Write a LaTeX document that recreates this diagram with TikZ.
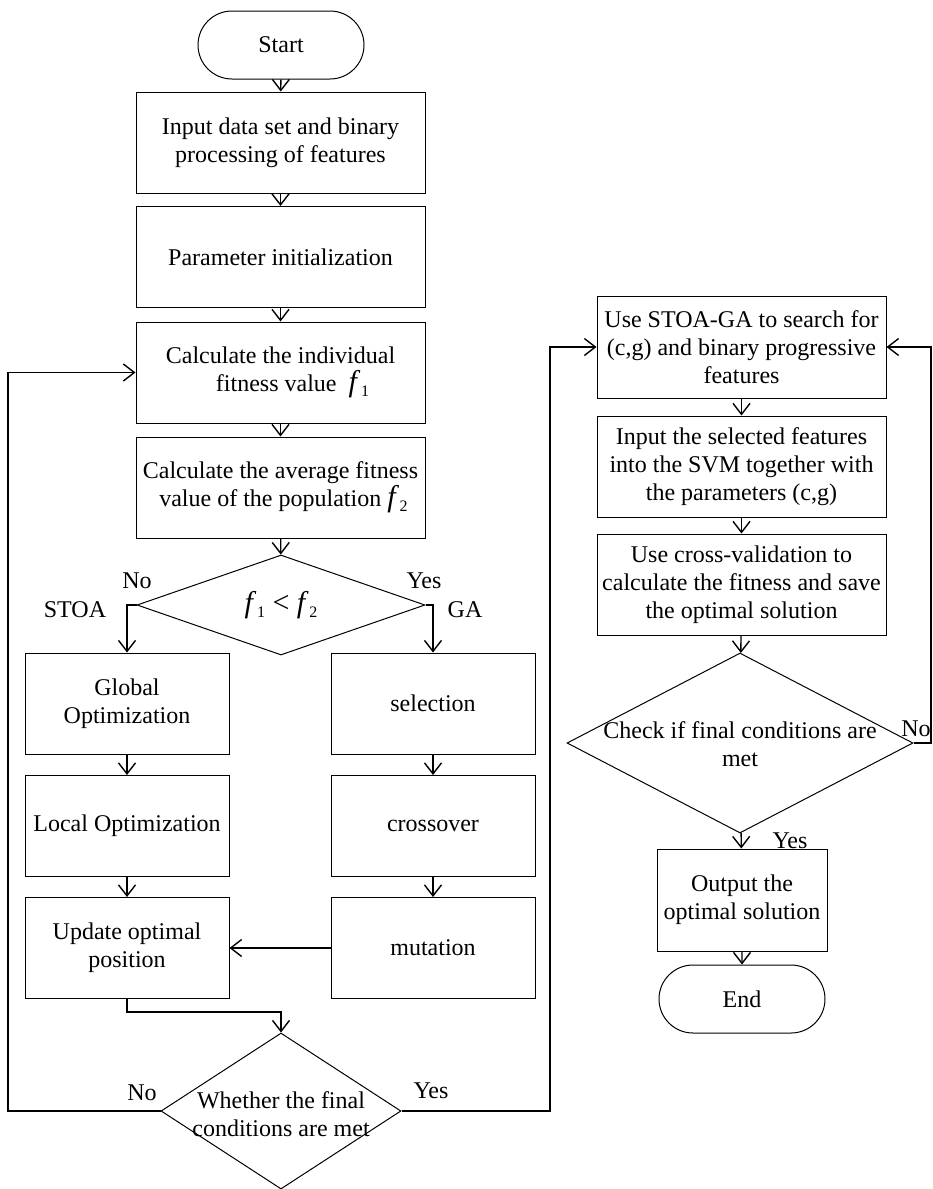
\documentclass[tikz,border=0pt]{standalone}
\usepackage{fontspec}
\setmainfont{Liberation Serif}
\usepackage{tikz}
\usetikzlibrary{arrows.meta,positioning,shapes.geometric,shapes.misc}
\newcommand{\fs}{\fontsize{12}{14}\selectfont}
\newcommand{\fval}[1]{{\fontsize{15}{14}\selectfont\textit{f}\kern0.3pt\raisebox{-0.35ex}{\fontsize{8}{8}\selectfont #1}}}

\begin{document}
\begin{tikzpicture}[x=0.5pt,y=-0.5pt,
  base/.style={draw,line width=0.5pt,align=center,inner sep=1pt,font=\fs},
  proc/.style={base,minimum width=144.5pt,minimum height=50.5pt},
  subproc/.style={base,minimum width=102pt,minimum height=50.5pt},
  term/.style={base,rounded rectangle,minimum width=85pt,minimum height=34pt},
  decide/.style={draw,diamond,line width=0.5pt,inner sep=0pt},
  conn/.style={-{Straight Barb[length=5.5pt,width=8.5pt]},line width=0.7pt},
  lab/.style={font=\fs,inner sep=0pt}]
\useasboundingbox (0,0) rectangle (932,1189);

% main column
\node[term] (start) at (281,45) {Start};
\node[proc] (inp) at (280.5,142.5) {Input data set and binary\\processing of features};
\node[proc] (init) at (280.5,257) {Parameter initialization};
\node[proc] (indiv) at (280.5,372.5) {Calculate the individual\\\quad fitness value \ \fval{1}};
\node[proc] (avg) at (280.5,487.5) {Calculate the average fitness\\\ value of the population \fval{2}};
\node[decide,minimum width=144pt,minimum height=50pt] (d1) at (281,605) {};
\node[font=\fontsize{15}{16}\selectfont] (d1t) at (d1) {\fval{1} < \fval{2}};

% STOA branch
\node[subproc] (glob) at (127,703.5) {Global\\Optimization};
\node[subproc] (loc) at (127,826) {Local Optimization};
\node[subproc] (upd) at (127,948) {Update optimal\\position};

% GA branch
\node[subproc] (sel) at (433,703.5) {selection};
\node[subproc] (cro) at (433,826) {crossover};
\node[subproc] (mut) at (433,948) {mutation};

\node[decide,minimum width=120pt,minimum height=78pt] (d2) at (281,1111) {};
\node[font=\fs,align=center] (d2t) at (281,1114) {Whether the final\\conditions are met};

% SVM column
\node[proc,minimum height=51pt] (r1) at (741.5,347) {Use STOA-GA to search for\\(c,g) and binary progressive\\features};
\node[proc] (r2) at (741.5,466.5) {Input the selected features\\into the SVM together with\\the parameters (c,g)};
\node[proc] (r3) at (741.5,584.5) {Use cross-validation to\\calculate the fitness and save\\the optimal solution};
\node[decide,minimum width=173pt,minimum height=90pt] (d3) at (740,743) {};
\node[font=\fs,align=center] (d3t) at (740,744) {Check if final conditions are\\met};
\node[base,minimum width=85pt,minimum height=51pt] (outp) at (742,900) {Output the\\optimal solution};
\node[term] (fin) at (742,999) {End};

\coordinate (lrail) at (8,0);
\coordinate (mrail) at (550,0);
\coordinate (erail) at (931,0);

% labels
\node[lab] (no1) at (137,581) {No};
\node[lab] (yes1) at (424,581) {Yes};
\node[lab] (stoa) at (75,610) {STOA};
\node[lab] (ga) at (465,610) {GA};
\node[lab] (no2) at (142,1093) {No};
\node[lab] (yes2) at (431,1091) {Yes};
\node[lab] (no3) at (916,729) {No};
\node[lab] (yes3) at (790,841) {Yes};

% connectors
\draw[conn] (start) -- (inp);
\draw[conn] (inp) -- (init);
\draw[conn] (init) -- (indiv);
\draw[conn] (indiv) -- (avg);
\draw[conn] (avg) -- (d1);
\draw[conn] (d1.west) -| (glob.north);
\draw[conn] (d1.east) -| (sel.north);
\draw[conn] (glob) -- (loc);
\draw[conn] (loc) -- (upd);
\draw[conn] (sel) -- (cro);
\draw[conn] (cro) -- (mut);
\draw[conn] (mut) -- (upd);
\draw[conn] (upd.south) -- ++(0,13) -| (d2.north);
\draw[conn] (d2.west) -- (d2.west -| lrail) |- (indiv.west);
\draw[conn] (d2.east) -- (d2.east -| mrail) |- (r1.west);
\draw[conn] (r1) -- (r2);
\draw[conn] (r2) -- (r3);
\draw[conn] (r3) -- (d3);
\draw[conn] (d3.east) -- (d3.east -| erail) |- (r1.east);
\draw[conn] (d3) -- (outp);
\draw[conn] (outp) -- (fin);
\end{tikzpicture}
\end{document}
